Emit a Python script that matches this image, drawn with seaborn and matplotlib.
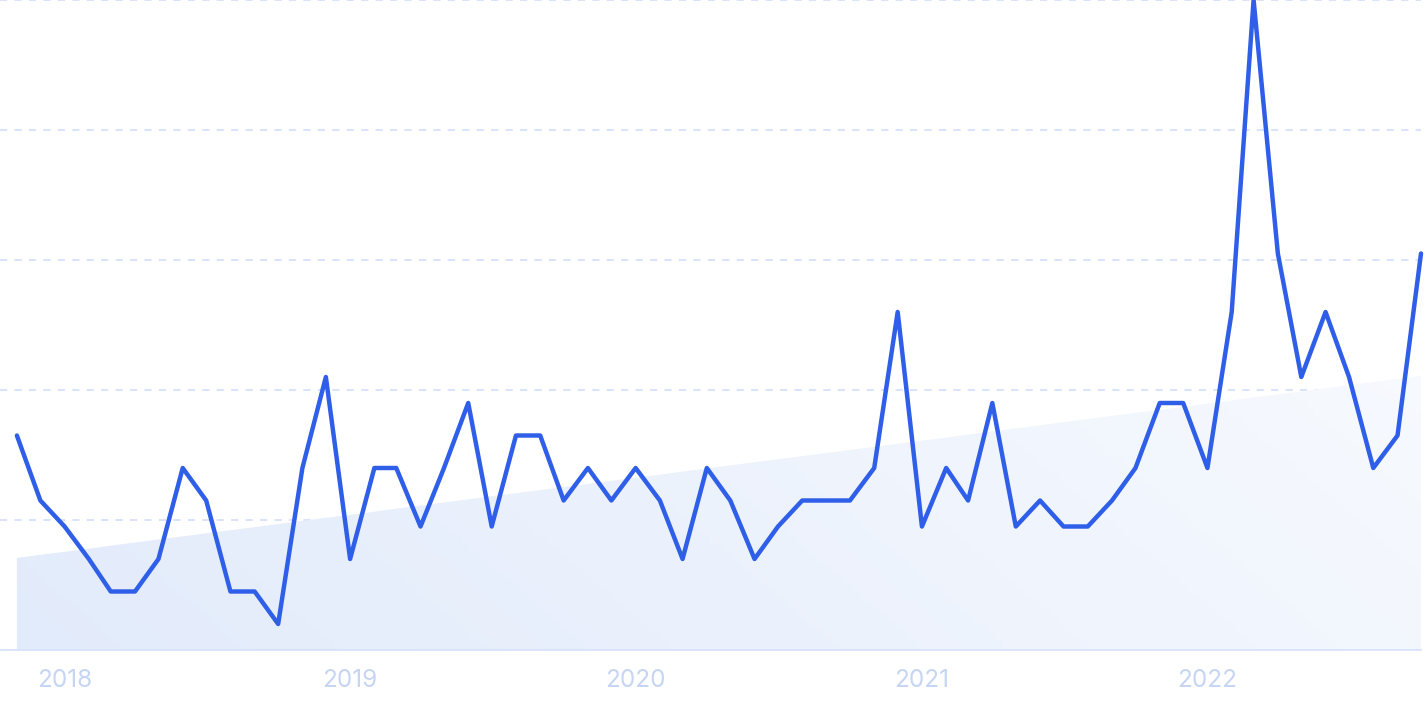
import matplotlib
matplotlib.use("Agg")
import matplotlib.pyplot as plt
import matplotlib.dates as mdates
from matplotlib.colors import to_rgb
import seaborn as sns
import pandas as pd
import numpy as np

# monthly search interest, Nov 2017 .. Oct 2022 (peak = 100)
start_month = "2017-11-01"
interest = [33, 23, 19, 14, 9, 9, 14, 28, 23, 9, 9, 4,
            28, 42, 14, 28, 28, 19, 28, 38, 19, 33, 33, 23,
            28, 23, 28, 23, 14, 28, 23, 14, 19, 23, 23, 23,
            28, 52, 19, 28, 23, 38, 19, 23, 19, 19, 23, 28,
            38, 38, 28, 52, 100, 61, 42, 52, 42, 28, 33, 61]
year_ticks = ["2018", "2019", "2020", "2021", "2022"]

line_color = "#2f5fe8"
grid_color = "#d5e0fa"
label_color = "#c6d5f4"


def gradient_image(c0, c1, n=200):
    a, b = np.array(to_rgb(c0)), np.array(to_rgb(c1))
    xx, yy = np.meshgrid(np.linspace(0, 1, n), np.linspace(0, 1, n))
    t = np.clip(0.65 * xx + 0.35 * (1 - yy), 0, 1)[..., None]
    return a + (b - a) * t


def main():
    sns.set_theme(style="white")
    plt.rcParams["font.family"] = ["Inter", "DejaVu Sans"]

    months = pd.date_range(start_month, periods=len(interest), freq="MS")
    df = pd.DataFrame({"month": months, "interest": interest})

    fig = plt.figure(figsize=(14.25, 7.12), dpi=100)
    ax = fig.add_axes([0, 62 / 712, 1421 / 1425, 650 / 712])

    # linear trend area with soft gradient
    xnum = mdates.date2num(df["month"])
    k, b = np.polyfit(np.arange(len(interest)), interest, 1)
    trend = k * np.arange(len(interest)) + b
    poly = ax.fill_between(df["month"], 0, trend, color="none", lw=0)
    img = ax.imshow(gradient_image("#e2ebfb", "#fcfdff"), extent=[0, 1, 0, 1],
                    transform=ax.transAxes, aspect="auto", zorder=1)
    img.set_clip_path(poly.get_paths()[0], transform=ax.transData)

    sns.lineplot(data=df, x="month", y="interest", color=line_color,
                 linewidth=3.2, ax=ax, zorder=3, clip_on=False)

    ax.set_xlim(xnum[0] - 0.71 * 30.4, xnum[-1])
    ax.set_ylim(0, 100)

    ax.set_yticks([0, 20, 40, 60, 80, 100])
    ax.yaxis.grid(True, color=grid_color, linewidth=1.3,
                  linestyle=(0, (4, 4)), zorder=0)
    ax.tick_params(axis="y", left=False, labelleft=False)

    ticks = [pd.Timestamp(f"{y}-01-01") for y in year_ticks]
    ax.set_xticks(ticks)
    ax.set_xticklabels(year_ticks, color=label_color, fontsize=17.5)
    ax.tick_params(axis="x", bottom=False, pad=8)
    ax.set_xlabel("")
    ax.set_ylabel("")

    for side in ["top", "right", "left"]:
        ax.spines[side].set_visible(False)
    ax.spines["bottom"].set_color(grid_color)
    ax.spines["bottom"].set_linewidth(1.2)

    fig.savefig("out.png", dpi=100, facecolor="white")


if __name__ == "__main__":
    main()
